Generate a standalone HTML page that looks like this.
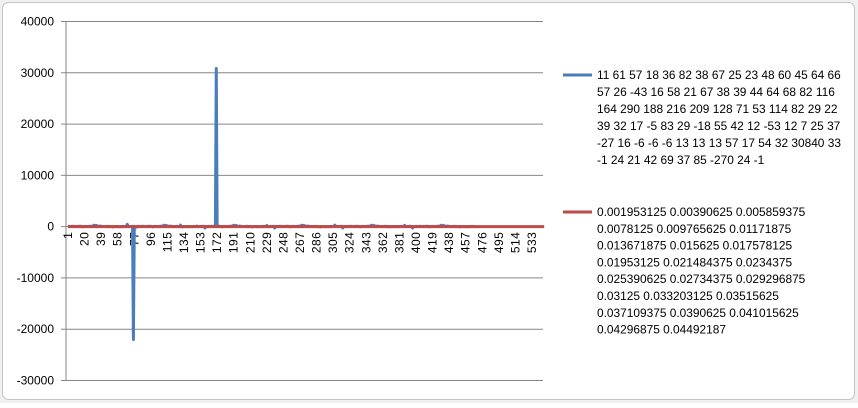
<!DOCTYPE html>
<html><head><meta charset="utf-8"><style>
html,body{margin:0;padding:0;background:#fff;}
body{width:858px;height:403px;overflow:hidden;font-family:"Liberation Sans",sans-serif;}
</style></head><body>
<svg id="chart" width="858" height="403" xmlns="http://www.w3.org/2000/svg" font-family="Liberation Sans, sans-serif">
<rect x="0" y="0" width="858" height="403" fill="#f0f0f0"/>
<rect x="2.5" y="2.5" width="852" height="397" rx="6" fill="#fff" stroke="#c4c4c4"/>
<g id="grid"></g><g id="axes"></g><g id="series"></g>
<g id="legend" font-size="11.9" fill="#000">
<line x1="563" y1="75" x2="592" y2="75" stroke="#4a7ebb" stroke-width="3"/>
<text x="597" y="79">
<tspan x="597">11 61 57 18 36 82 38 67 25 23 48 60 45 64 66</tspan>
<tspan x="597" dy="17">57 26 -43 16 58 21 67 38 39 44 64 68 82 116</tspan>
<tspan x="597" dy="17">164 290 188 216 209 128 71 53 114 82 29 22</tspan>
<tspan x="597" dy="17">39 32 17 -5 83 29 -18 55 42 12 -53 12 7 25 37</tspan>
<tspan x="597" dy="17">-27 16 -6 -6 -6 13 13 13 57 17 54 32 30840 33</tspan>
<tspan x="597" dy="17">-1 24 21 42 69 37 85 -270 24 -1</tspan>
</text>
<line x1="563" y1="212" x2="592" y2="212" stroke="#be4b48" stroke-width="3"/>
<text x="597" y="216">
<tspan x="597">0.001953125 0.00390625 0.005859375</tspan>
<tspan x="597" dy="16.8">0.0078125 0.009765625 0.01171875</tspan>
<tspan x="597" dy="16.8">0.013671875 0.015625 0.017578125</tspan>
<tspan x="597" dy="16.8">0.01953125 0.021484375 0.0234375</tspan>
<tspan x="597" dy="16.8">0.025390625 0.02734375 0.029296875</tspan>
<tspan x="597" dy="16.8">0.03125 0.033203125 0.03515625</tspan>
<tspan x="597" dy="16.8">0.037109375 0.0390625 0.041015625</tspan>
<tspan x="597" dy="16.8">0.04296875 0.04492187</tspan>
</text>
</g>
</svg>
<script>
const categoryCount = 547;
const yTicks = [40000,30000,20000,10000,0,-10000,-20000,-30000];
const xTickLabels = [1,20,39,58,77,96,115,134,153,172,191,210,229,248,267,286,305,324,343,362,381,400,419,438,457,476,495,514,533];
const seriesA = [
11,61,57,18,36,82,38,67,25,23,48,60,45,64,66,57,26,-43,16,58,21,67,38,39,44,64,68,82,116,164,290,188,216,209,128,71,53,114,82,29,22,39,32,17,-5,83,29,-18,55,42,12,-53,12,7,25,37,-27,16,-6,-6,-6,13,13,13,57,17,54,32,450,33,-1,24,21,42,69,-22000,85,-270,24,-1,
11,61,57,18,36,82,38,67,25,23,48,60,45,64,66,57,26,-43,16,58,21,67,38,39,44,64,68,82,116,164,290,188,216,209,128,71,53,114,82,29,22,39,32,17,-5,83,29,-18,55,300,12,-53,12,7,25,37,-27,16,-6,-6,-6,13,13,13,57,17,54,32,120,33,-1,24,21,42,69,37,85,-270,
24,-1,11,61,57,18,36,82,38,67,25,23,30840,60,45,64,66,57,26,-43,16,58,21,67,38,39,44,64,68,82,116,164,290,188,216,209,128,71,53,114,82,29,22,39,32,17,-5,83,29,-18,55,42,12,-53,12,7,25,37,-27,16,-6,-6,-6,13,13,13,57,17,54,32,200,33,-1,24,21,42,69,37,85,-270,
11,61,57,18,36,82,38,67,25,23,48,60,45,64,66,57,26,-43,16,58,21,67,38,39,44,64,68,82,116,164,290,188,216,209,128,71,53,114,82,29,22,39,32,17,-5,83,29,-18,55,42,12,-53,12,7,25,37,-27,16,-6,-6,-6,13,13,13,57,17,54,32,300,33,-1,24,21,42,69,37,85,-270,24,-1,
11,61,57,18,36,82,38,67,25,23,48,60,45,64,66,57,26,-43,16,58,21,67,38,39,44,64,68,82,116,164,290,188,216,209,128,71,53,114,82,29,22,39,32,17,-5,83,29,-18,55,42,12,-53,12,7,25,37,-27,16,-6,-6,-6,13,13,13,57,17,54,32,250,33,-1,24,21,42,69,37,85,-270,24,-1,
11,61,57,18,36,82,38,67,25,23,48,60,45,64,66,57,26,-43,16,58,21,67,38,39,44,64,68,82,116,164,290,188,216,209,128,71,53,114,82,29,22,39,32,17,-5,83,29,-18,55,42,12,-53,12,7,25,37,-27,16,-6,-6,-6,13,13,13,57,17,54,32,-1,24
];
const seriesB = [0.001953125,0.00390625,0.005859375,0.0078125,0.009765625,0.01171875,0.013671875,0.015625,0.017578125,0.01953125,0.021484375,0.0234375,0.025390625,0.02734375,0.029296875,0.03125,0.033203125,0.03515625,0.037109375,0.0390625,0.041015625,0.04296875,0.04492187];

const NS='http://www.w3.org/2000/svg';
const X0=66,X1=543,Y_TOP=21.5,Y_BOT=380.5,YMAX=40000,YMIN=-30000;
function y(v){return Y_TOP+(YMAX-v)/(YMAX-YMIN)*(Y_BOT-Y_TOP);}
function x(i){return 68+i*(464/532);}
function mk(tag,attrs,parent){const e=document.createElementNS(NS,tag);for(const k in attrs)e.setAttribute(k,attrs[k]);parent.appendChild(e);return e;}
const grid=document.getElementById('grid'),axes=document.getElementById('axes'),ser=document.getElementById('series');
yTicks.forEach(v=>{
  const g=mk('line',{x1:X0,x2:X1,y1:y(v),y2:y(v),stroke:'#868686','stroke-width':1},grid);
  
  
  const t=mk('line',{x1:X0-5,x2:X0,y1:y(v),y2:y(v),stroke:'#868686'},axes);
  
  
  const l=mk('text',{x:54,y:y(v)+4,'text-anchor':'end','font-size':'12',fill:'#000'},axes);
  l.textContent=v;
  
  
});
const ya=mk('line',{x1:X0,x2:X0,y1:Y_TOP,y2:Y_BOT,stroke:'#868686'},axes);


xTickLabels.forEach(c=>{
  const px=x(c-1);
  const l=mk('text',{transform:'translate('+(px+4)+','+(y(0)+5)+') rotate(-90)','text-anchor':'end','font-size':'12',fill:'#000','letter-spacing':'0.5'},axes);
  l.textContent=c;
  
  
});
let dA=seriesA.map((v,i)=>(i?'L':'M')+x(i).toFixed(2)+' '+y(v).toFixed(2)).join(' ');
const pa=mk('path',{d:dA,fill:'none',stroke:'#4a7ebb','stroke-width':3,'stroke-linejoin':'round'},ser);


let dB=seriesB.map((v,i)=>(i?'L':'M')+x(i*(categoryCount-1)/(seriesB.length-1)).toFixed(2)+' '+y(v).toFixed(2)).join(' ');
const pb=mk('path',{d:dB,fill:'none',stroke:'#be4b48','stroke-width':3},ser);


</script>
</body></html>
